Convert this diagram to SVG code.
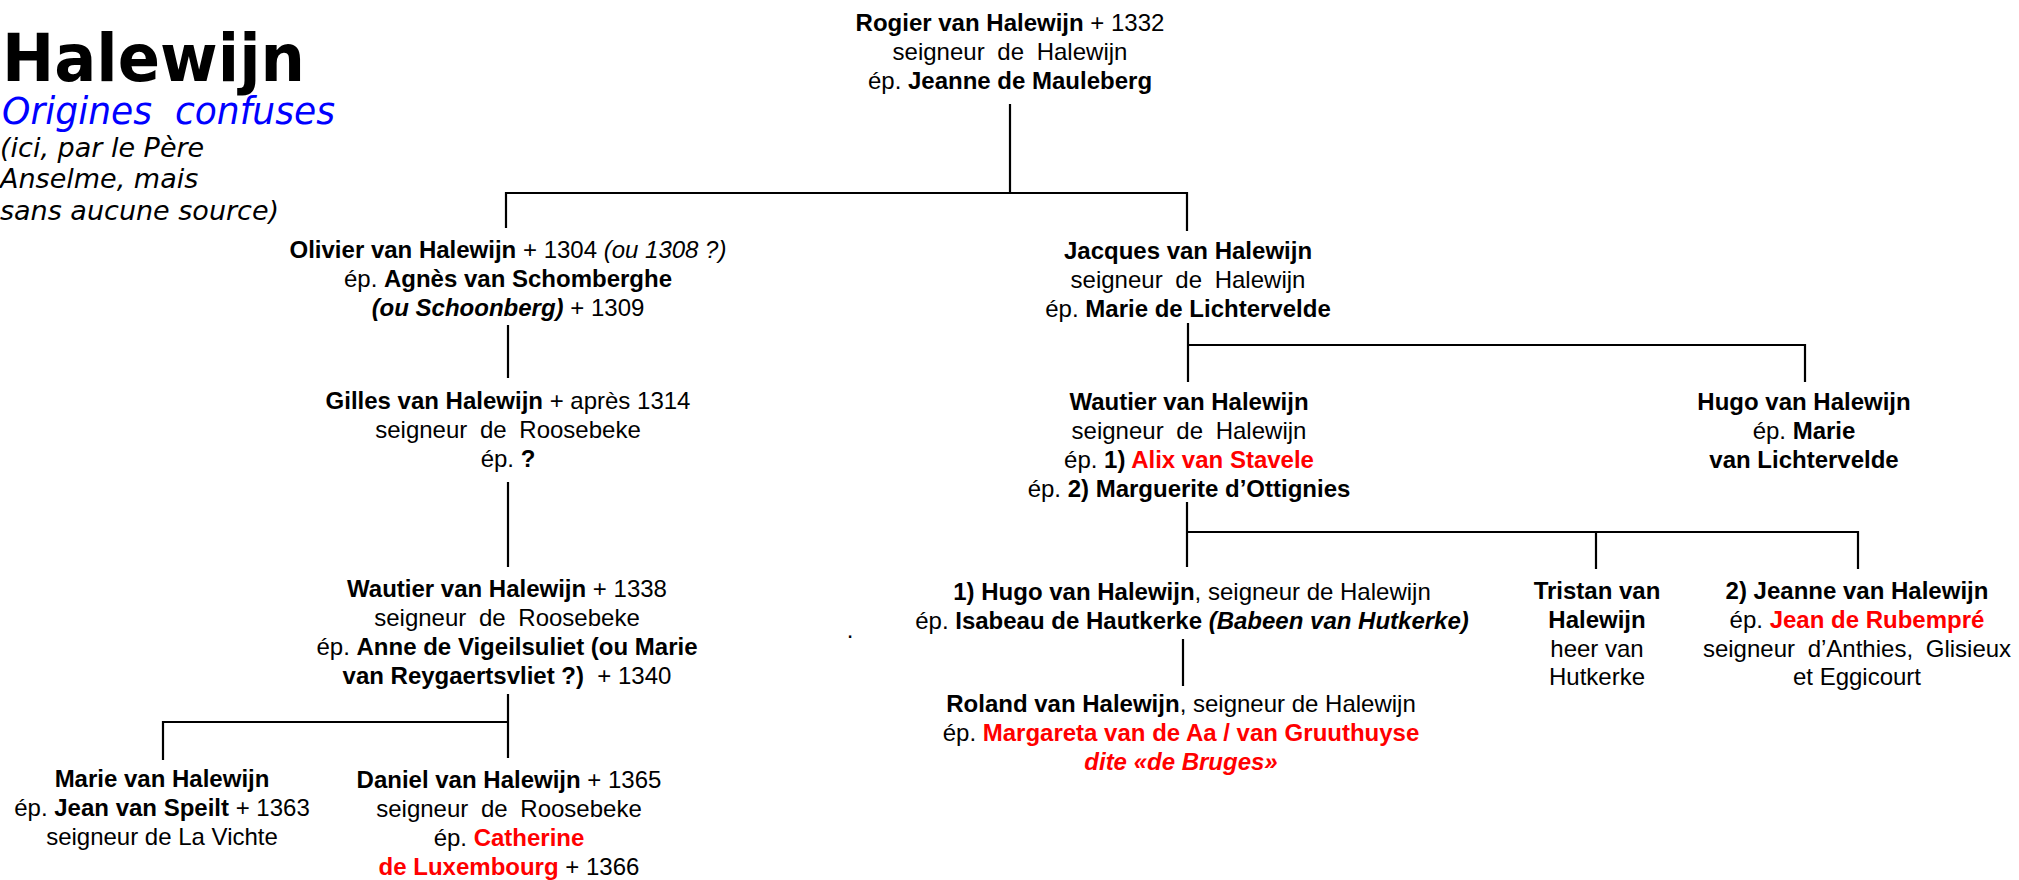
<svg xmlns="http://www.w3.org/2000/svg" width="2019" height="880" viewBox="0 0 2019 880">
<style>
.t{font-family:"Liberation Sans",Arial,sans-serif;font-size:24px;fill:#000;text-anchor:middle}
.b{font-weight:bold}
.i{font-style:italic}
.r{fill:#ff0000}
.w{word-spacing:6px}
.h{font-family:"DejaVu Sans",Verdana,sans-serif}
.c{stroke:#000;stroke-width:2.2;fill:none}
</style>
<rect width="2019" height="880" fill="#fff"/>
<g id="title">
<text class="h" x="2" y="81" font-size="66" font-weight="bold" textLength="303" lengthAdjust="spacingAndGlyphs">Halewijn</text>
<text class="h" x="2" y="124" font-size="37" font-style="italic" fill="#0000ff" xml:space="preserve" textLength="333" lengthAdjust="spacingAndGlyphs">Origines  confuses</text>
<text class="h" x="0" y="157" font-size="27" font-style="italic">(ici, par le Père</text>
<text class="h" x="0" y="188" font-size="27" font-style="italic">Anselme, mais</text>
<text class="h" x="0" y="220" font-size="27" font-style="italic">sans aucune source)</text>
</g>
<g id="connectors" class="c">
<path d="M1010 104V193M506 193H1187M506 192V228M1187 192V231"/>
<path d="M508 325V378"/>
<path d="M508 482V567"/>
<path d="M508 694V758M163 722H508M163 721V760"/>
<path d="M1188 323V382M1188 345H1805M1805 344V382"/>
<path d="M1187 502V567M1187 532H1858M1596 531V569M1858 531V569"/>
<path d="M1183 639V686"/>
</g>
<g id="rogier">
<text class="t" x="1010" y="31"><tspan class="b">Rogier van Halewijn</tspan> + 1332</text>
<text class="t w" x="1010" y="60">seigneur de Halewijn</text>
<text class="t" x="1010" y="89">ép. <tspan class="b">Jeanne de Mauleberg</tspan></text>
</g>
<g id="olivier">
<text class="t" x="508" y="258"><tspan class="b">Olivier van Halewijn</tspan> + 1304 <tspan class="i">(ou 1308 ?)</tspan></text>
<text class="t" x="508" y="287">ép. <tspan class="b">Agnès van Schomberghe</tspan></text>
<text class="t" x="508" y="316"><tspan class="b i">(ou Schoonberg)</tspan> + 1309</text>
</g>
<g id="gilles">
<text class="t" x="508" y="409"><tspan class="b">Gilles van Halewijn</tspan> + après 1314</text>
<text class="t w" x="508" y="438">seigneur de Roosebeke</text>
<text class="t" x="508" y="467">ép. <tspan class="b">?</tspan></text>
</g>
<g id="wautier-roosebeke">
<text class="t" x="507" y="597"><tspan class="b">Wautier van Halewijn</tspan> + 1338</text>
<text class="t w" x="507" y="626">seigneur de Roosebeke</text>
<text class="t" x="507" y="655">ép. <tspan class="b">Anne de Vigeilsuliet (ou Marie</tspan></text>
<text class="t" x="507" y="684" xml:space="preserve"><tspan class="b">van Reygaertsvliet ?)</tspan>  + 1340</text>
</g>
<g id="marie">
<text class="t" x="162" y="787"><tspan class="b">Marie van Halewijn</tspan></text>
<text class="t" x="162" y="816">ép. <tspan class="b">Jean van Speilt</tspan> + 1363</text>
<text class="t" x="162" y="845">seigneur de La Vichte</text>
</g>
<g id="daniel">
<text class="t" x="509" y="788"><tspan class="b">Daniel van Halewijn</tspan> + 1365</text>
<text class="t w" x="509" y="817">seigneur de Roosebeke</text>
<text class="t" x="509" y="846">ép. <tspan class="b r">Catherine</tspan></text>
<text class="t" x="509" y="875"><tspan class="b r">de Luxembourg</tspan> + 1366</text>
</g>
<g id="jacques">
<text class="t" x="1188" y="259"><tspan class="b">Jacques van Halewijn</tspan></text>
<text class="t w" x="1188" y="288">seigneur de Halewijn</text>
<text class="t" x="1188" y="317">ép. <tspan class="b">Marie de Lichtervelde</tspan></text>
</g>
<g id="wautier-halewijn">
<text class="t" x="1189" y="410"><tspan class="b">Wautier van Halewijn</tspan></text>
<text class="t w" x="1189" y="439">seigneur de Halewijn</text>
<text class="t" x="1189" y="468">ép. <tspan class="b">1) </tspan><tspan class="b r">Alix van Stavele</tspan></text>
<text class="t" x="1189" y="497">ép. <tspan class="b">2) Marguerite d’Ottignies</tspan></text>
</g>
<g id="hugo-lichtervelde">
<text class="t" x="1804" y="410"><tspan class="b">Hugo van Halewijn</tspan></text>
<text class="t" x="1804" y="439">ép. <tspan class="b">Marie</tspan></text>
<text class="t" x="1804" y="468"><tspan class="b">van Lichtervelde</tspan></text>
</g>
<g id="hugo-hautkerke">
<text class="t" x="1192" y="600"><tspan class="b">1) Hugo van Halewijn</tspan>, seigneur de Halewijn</text>
<text class="t" x="1192" y="629">ép. <tspan class="b">Isabeau de Hautkerke </tspan><tspan class="b i">(Babeen van Hutkerke)</tspan></text>
</g>
<g id="roland">
<text class="t" x="1181" y="712"><tspan class="b">Roland van Halewijn</tspan>, seigneur de Halewijn</text>
<text class="t" x="1181" y="741">ép. <tspan class="b r">Margareta van de Aa / van Gruuthuyse</tspan></text>
<text class="t" x="1181" y="770"><tspan class="b i r">dite «de Bruges»</tspan></text>
</g>
<g id="tristan">
<text class="t" x="1597" y="599"><tspan class="b">Tristan van</tspan></text>
<text class="t" x="1597" y="628"><tspan class="b">Halewijn</tspan></text>
<text class="t" x="1597" y="657">heer van</text>
<text class="t" x="1597" y="685">Hutkerke</text>
</g>
<g id="jeanne">
<text class="t" x="1857" y="599"><tspan class="b">2) Jeanne van Halewijn</tspan></text>
<text class="t" x="1857" y="628">ép. <tspan class="b r">Jean de Rubempré</tspan></text>
<text class="t w" x="1857" y="657">seigneur d’Anthies, Glisieux</text>
<text class="t" x="1857" y="685">et Eggicourt</text>
</g>
<text class="t" x="850" y="638" font-size="12" fill="#888">.</text>
</svg>
